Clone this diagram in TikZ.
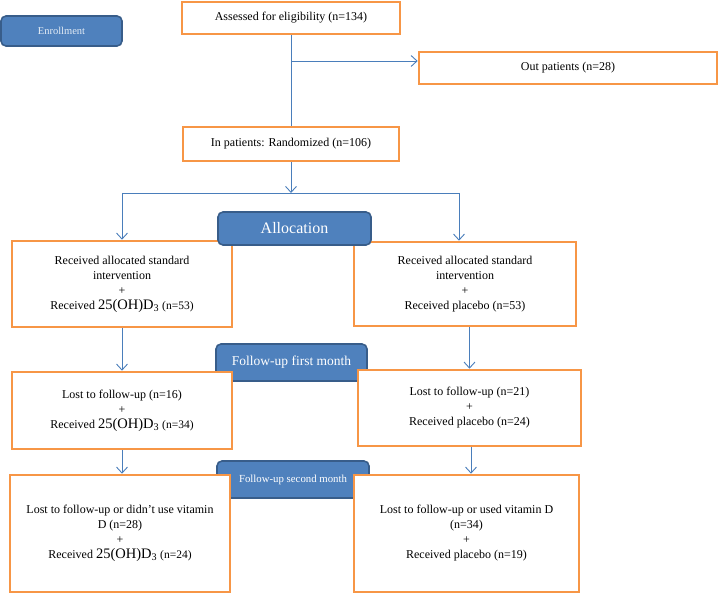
\documentclass[tikz,border=0pt]{standalone}
\usepackage{fontspec}
\setmainfont{Liberation Serif}
\usetikzlibrary{positioning}
\usetikzlibrary{arrows.meta}

\definecolor{boxorange}{HTML}{F79646}
\definecolor{tagblue}{HTML}{4F81BD}
\definecolor{tagedge}{HTML}{385D8A}
\definecolor{flowblue}{HTML}{4A7EBB}

\newcommand{\vitD}{{\fontsize{14.5}{15}\selectfont 25(OH)D\textsubscript{3}}}
\newcommand{\nsmall}[1]{{\fontsize{11.5}{15}\selectfont (n=#1)}}

\tikzset{
  box/.style={draw=boxorange, line width=2.6pt, fill=white, align=center, inner sep=2pt,
    font=\fontsize{12}{15}\selectfont},
  tag/.style={draw=tagedge, line width=1.6pt, fill=tagblue, rounded corners=5pt,
    text=white, inner sep=0pt},
  flow/.style={flowblue, line width=0.9pt, -{Straight Barb[length=6pt,width=11pt]}},
  flowline/.style={flowblue, line width=0.9pt},
}

\begin{document}
\begin{tikzpicture}[x=1pt, y=-1pt]

\useasboundingbox (0,0) rectangle (719,593);

% stage tags (behind the boxes)
{
\node[tag, minimum width=121pt, minimum height=30pt, text=white!85!tagblue,
  font=\fontsize{10.5}{12}\selectfont] (enroll) at (61.5,31) {Enrollment};
\node[tag, minimum width=151pt, minimum height=37pt,
  font=\fontsize{13.5}{15}\selectfont] (first) at (291.5,362.5) {Follow-up first month};
\node[tag, minimum width=152pt, minimum height=37pt,
  font=\fontsize{10.8}{12}\selectfont] (second) at (293,479.5) {Follow-up second month};
}

% boxes
{
\node[box, minimum width=218pt, minimum height=32pt] (assess) at (291,18)
  {Assessed for eligibility (n=134)};
\node[box, minimum width=298pt, minimum height=32pt] (outp) at (568,68)
  {Out patients (n=28)};
\node[box, minimum width=216pt, minimum height=34pt] (inpat) at (291,144)
  {In patients: Randomized (n=106)};

\node[box, minimum width=220pt, minimum height=86pt] (vitone) at (122,284)
  {Received allocated standard\\ intervention\\ +\\ Received \vitD{} \nsmall{53}};
\node[box, minimum width=222pt, minimum height=84pt] (plaone) at (465,284)
  {Received allocated standard\\ intervention\\ +\\ Received placebo (n=53)};

\node[box, minimum width=220pt, minimum height=77pt] (vittwo) at (122,410.5)
  {Lost to follow-up (n=16)\\ +\\ Received \vitD{} \nsmall{34}};
\node[box, minimum width=223pt, minimum height=76pt] (platwo) at (469.5,408)
  {Lost to follow-up (n=21)\\ +\\ Received placebo (n=24)};

\node[box, minimum width=220pt, minimum height=117pt] (vitthree) at (120,533.5)
  {Lost to follow-up or didn’t use vitamin\\ D (n=28)\\ +\\ Received \vitD{} \nsmall{24}};
\node[box, minimum width=225pt, minimum height=117pt] (plathree) at (466.5,533.5)
  {Lost to follow-up or used vitamin D\\ (n=34)\\ +\\ Received placebo (n=19)};
}

% allocation tag (on top)
\node[tag, minimum width=153pt, minimum height=33pt,
  font=\fontsize{16}{18}\selectfont] (alloc) at (294.5,228.5) {Allocation};

% connectors
{
\coordinate (split) at (291,61);
\coordinate (fork) at (291,193);

\draw[flowline] (assess) -- (inpat);
\draw[flow] (split) -- (split -| outp.west);

\draw[flow] (inpat) -- (fork);
\draw[flowline] (fork -| vitone.north) -- ([xshift=-6pt]fork -| plaone.north);
\draw[flow] (fork -| vitone.north) -- (vitone.north);
\draw[flow] ([xshift=-6pt]fork -| plaone.north) -- ([xshift=-6pt]plaone.north);

\draw[flow] (vitone) -- (vittwo);
\draw[flow] (platwo.north |- plaone.south) -- (platwo.north);
\draw[flow] (vittwo) -- (vittwo.south |- vitthree.north);
\draw[flow] ([xshift=1.5pt]platwo.south) -- ([xshift=1.5pt]platwo.south |- plathree.north);
}

\end{tikzpicture}
\end{document}
